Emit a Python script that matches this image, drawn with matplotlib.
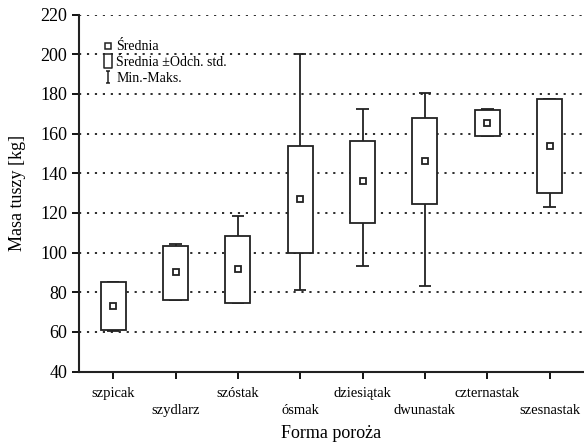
import numpy as np
import matplotlib.pyplot as plt
from matplotlib.lines import Line2D
from matplotlib.path import Path

plt.rcParams['font.family'] = ['Liberation Serif', 'DejaVu Serif']

kategorie = ['szpicak', 'szydlarz', 'szóstak', 'ósmak', 'dziesiątak',
             'dwunastak', 'czternastak', 'szesnastak']
srednia = [73.3, 90.0, 92.0, 127.0, 135.9, 146.0, 165.3, 154.0]
sd_dol = [60.9, 76.2, 74.7, 99.7, 114.9, 124.3, 158.8, 130.0]
sd_gora = [85.4, 103.1, 108.3, 154.0, 156.4, 167.7, 171.9, 177.7]
minimum = [60.5, 76.2, 74.7, 81.0, 93.5, 83.0, 158.8, 123.2]
maksimum = [85.4, 104.5, 118.5, 200.0, 172.5, 180.5, 172.6, 177.7]

x = np.arange(len(kategorie))
lo = np.array(sd_dol)
hi = np.array(sd_gora)

fig = plt.figure(figsize=(5.84, 4.44), dpi=100)
ax = fig.add_axes([0.135, 0.163, 0.865, 0.804])

# siatka
ax.set_ylim(40, 220)
ax.set_yticks(np.arange(40, 221, 20))
ax.yaxis.grid(True, linestyle=(0, (1.2, 3.2)), color='#1a1a1a', linewidth=1.3)
ax.set_axisbelow(True)

# wasy min-maks
ax.vlines(x, hi, maksimum, color='#222222', lw=1.3, zorder=2)
ax.vlines(x, minimum, lo, color='#222222', lw=1.3, zorder=2)
ax.hlines(maksimum, x - 0.1, x + 0.1, color='#222222', lw=1.3, zorder=2)
ax.hlines(minimum, x - 0.1, x + 0.1, color='#222222', lw=1.3, zorder=2)

# pudelka srednia +- odch. std.
ax.bar(x, hi - lo, bottom=lo, width=0.4, color='white', edgecolor='#222222',
       linewidth=1.3, zorder=3)
ax.plot(x, srednia, 's', ms=5, mfc='white', mec='#222222', mew=1.3, zorder=4)

ax.set_xlim(-0.55, 7.55)
ax.set_xticks(x)
ax.set_xticklabels([k if i % 2 == 0 else '\n' + k for i, k in enumerate(kategorie)],
                   fontsize=10.5, linespacing=1.4)
ax.tick_params(axis='y', labelsize=13, direction='out', length=5, width=1.3)
ax.tick_params(axis='x', direction='out', length=5, width=1.3, pad=6)
for s in ['top', 'right']:
    ax.spines[s].set_visible(False)
for s in ['left', 'bottom']:
    ax.spines[s].set_linewidth(1.5)
    ax.spines[s].set_color('#222222')

ax.set_xlabel('Forma poroża', fontsize=13, labelpad=6)
ax.set_ylabel('Masa tuszy [kg]', fontsize=13, labelpad=10)

# legenda
wasy = Path([(-0.35, 1), (0.35, 1), (0, 1), (0, -1), (-0.35, -1), (0.35, -1)],
            [Path.MOVETO, Path.LINETO, Path.MOVETO, Path.LINETO, Path.MOVETO, Path.LINETO])
prost = Path([(-0.6, -1), (0.6, -1), (0.6, 1), (-0.6, 1), (-0.6, -1)],
             [Path.MOVETO, Path.LINETO, Path.LINETO, Path.LINETO, Path.CLOSEPOLY])
uchwyty = [
    Line2D([], [], marker='s', ls='none', ms=4, mfc='white', mec='#222222', mew=1.1),
    Line2D([], [], marker=prost, ls='none', ms=9.5, mfc='white', mec='#222222', mew=1.1),
    Line2D([], [], marker=wasy, ls='none', ms=8.5, mec='#222222', mew=1.1),
]
ax.legend(uchwyty, ['Średnia', 'Średnia ±Odch. std.', 'Min.-Maks.'],
          loc='upper left', bbox_to_anchor=(0.03, 0.955), frameon=False,
          fontsize=10, handlelength=0.6, handletextpad=0.3, labelspacing=0.2,
          borderpad=0.2)

fig.savefig('out.png', dpi=100)
